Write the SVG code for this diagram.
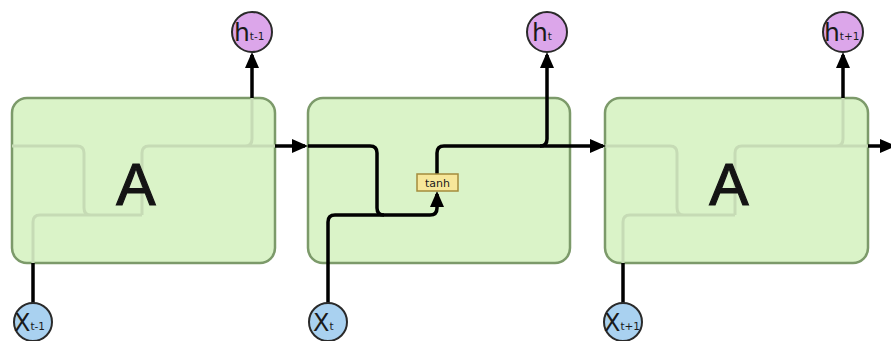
<svg xmlns="http://www.w3.org/2000/svg" width="891" height="341" viewBox="0 0 891 341">
  <style>
    .cell { fill: #daf3c8; stroke: #7c9a6a; stroke-width: 2.5; }
    .wire { fill: none; stroke: #000; stroke-width: 3.5; }
    .ghost { fill: none; stroke: #c6dbb5; stroke-width: 3; }
    .hnode { fill: #dca6ea; stroke: #2a2a2a; stroke-width: 2; }
    .xnode { fill: #a9d1f0; stroke: #2a2a2a; stroke-width: 2; }
    .lbl { font-family: "DejaVu Sans", sans-serif; fill: #1a1a1a; }
    .big { font-family: "Liberation Sans", Arial, sans-serif; font-size: 59px; fill: #141414; stroke: #141414; stroke-width: 1.2; }
    .gate { fill: #f7e79a; stroke: #a48c3c; stroke-width: 1.5; }
  </style>
  <defs>
    <marker id="arrow" viewBox="0 0 16 14" markerWidth="16" markerHeight="14" refX="13" refY="7" orient="auto" markerUnits="userSpaceOnUse">
      <path d="M0,0 L16,7 L0,14 z" fill="#000"/>
    </marker>
  </defs>
  <rect width="891" height="341" fill="#fff"/>

  <!-- cell at t-1 -->
  <g id="cell-prev">
    <rect class="cell" x="12" y="98" width="263" height="165" rx="15"/>
    <path class="ghost" d="M12,146 H77 Q84,146 84,153 V208 Q84,215 91,215 H142 M33,263 V222 Q33,215 40,215 H142 M142,215 V153 Q142,146 149,146 H275 M245,146 Q252,146 252,139 V98"/>
    <text class="big" x="136" y="205" text-anchor="middle">A</text>
  </g>

  <!-- cell at t -->
  <g id="cell-cur">
    <rect class="cell" x="308" y="98" width="262" height="165" rx="15"/>
  </g>

  <!-- cell at t+1 -->
  <g id="cell-next">
    <rect class="cell" x="605" y="98" width="263" height="165" rx="15"/>
    <path class="ghost" d="M605,146 H670 Q677,146 677,153 V208 Q677,215 684,215 H735 M623,263 V222 Q623,215 630,215 H735 M735,215 V153 Q735,146 742,146 H868 M836,146 Q843,146 843,139 V98"/>
    <text class="big" x="729" y="205" text-anchor="middle">A</text>
  </g>

  <!-- connectors -->
  <g id="connectors">
    <path class="wire" d="M252,98 V55" marker-end="url(#arrow)"/>
    <path class="wire" d="M275,146 H305" marker-end="url(#arrow)"/>
    <path class="wire" d="M33,303 V263"/>

    <path class="wire" d="M308,146 H370 Q377,146 377,153 V208 Q377,215 384,215 H430 Q437,215 437,208 V194" marker-end="url(#arrow)"/>
    <path class="wire" d="M328,303 V222 Q328,215 335,215 H384"/>
    <path class="wire" d="M437,174 V153 Q437,146 444,146 H603" marker-end="url(#arrow)"/>
    <path class="wire" d="M540,146 Q547,146 547,139 V55" marker-end="url(#arrow)"/>

    <path class="wire" d="M843,98 V55" marker-end="url(#arrow)"/>
    <path class="wire" d="M868,146 H893" marker-end="url(#arrow)"/>
    <path class="wire" d="M623,303 V263"/>
  </g>

  <!-- tanh layer -->
  <g id="tanh">
    <rect class="gate" x="417" y="174" width="41" height="17"/>
    <text class="lbl" x="437.5" y="187" font-size="11" text-anchor="middle">tanh</text>
  </g>

  <!-- outputs -->
  <g id="h-prev">
    <circle class="hnode" cx="252" cy="32" r="20"/>
    <text class="lbl" x="234" y="41" font-size="25">h<tspan font-size="10.5" dy="-1">t-1</tspan></text>
  </g>
  <g id="h-cur">
    <circle class="hnode" cx="547" cy="32" r="20"/>
    <text class="lbl" x="532" y="41" font-size="25">h<tspan font-size="10.5" dy="-1">t</tspan></text>
  </g>
  <g id="h-next">
    <circle class="hnode" cx="843" cy="32" r="20"/>
    <text class="lbl" x="824" y="41" font-size="25">h<tspan font-size="10.5" dy="-1">t+1</tspan></text>
  </g>

  <!-- inputs -->
  <g id="x-prev">
    <circle class="xnode" cx="33" cy="322" r="19"/>
    <text class="lbl" x="14" y="331" font-size="24">X<tspan font-size="10.5" dy="-1">t-1</tspan></text>
  </g>
  <g id="x-cur">
    <circle class="xnode" cx="328" cy="322" r="19"/>
    <text class="lbl" x="313" y="331" font-size="24">X<tspan font-size="10.5" dy="-1">t</tspan></text>
  </g>
  <g id="x-next">
    <circle class="xnode" cx="623" cy="322" r="19"/>
    <text class="lbl" x="604" y="331" font-size="24">X<tspan font-size="10.5" dy="-1">t+1</tspan></text>
  </g>
</svg>
